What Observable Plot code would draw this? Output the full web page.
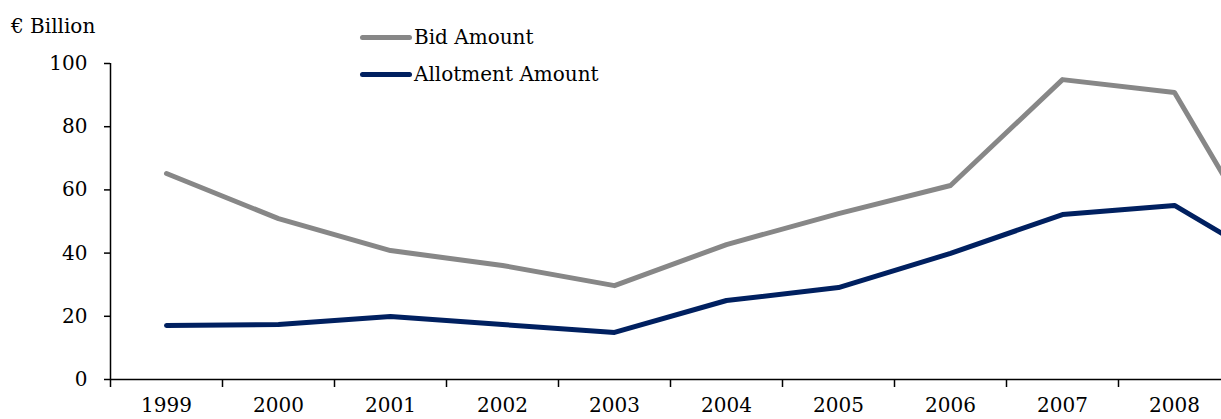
<!DOCTYPE html>
<html><head><meta charset="utf-8">
<script src="https://cdn.jsdelivr.net/npm/d3@7"></script>
<script src="https://cdn.jsdelivr.net/npm/@observablehq/plot@0.6"></script>
<style>
html,body{margin:0;padding:0;background:#fff;overflow:hidden;width:1221px;height:419px}
#wrap{position:relative;width:1400px;height:419px;font-family:"DejaVu Serif",serif;color:#000}
.unit{position:absolute;left:11px;top:16px;font-size:20px;line-height:20px}
.leg{position:absolute;font-size:20px;line-height:20px;display:flex;align-items:center;white-space:nowrap}
.leg .sw{width:52px;height:5px;border-radius:3px;margin-right:2px}
svg{position:absolute;left:0;top:0}
</style></head>
<body><div id="wrap"></div>
<script>
const years = [1999, 2000, 2001, 2002, 2003, 2004, 2005, 2006, 2007, 2008, 2009];
const bidAmount = [65.2, 50.9, 40.8, 36.1, 29.7, 42.7, 52.5, 61.4, 94.9, 90.8, 30.7];
const allotmentAmount = [17.1, 17.4, 19.9, 17.4, 14.9, 25.0, 29.1, 39.9, 52.2, 55.1, 34.2];
const yTicks = [0, 20, 40, 60, 80, 100];
const xTickLabels = [1999, 2000, 2001, 2002, 2003, 2004, 2005, 2006, 2007, 2008];
const seriesNames = ["Bid Amount", "Allotment Amount"];
const seriesColors = ["#878787", "#002060"];
const unitLabel = "€ Billion";

const bidData = years.map((y, i) => ({year: y, value: bidAmount[i]}));
const allotData = years.map((y, i) => ({year: y, value: allotmentAmount[i]}));
const boundaries = years.map(y => y - 0.5).concat([years[years.length - 1] + 0.5]);

const chart = Plot.plot({
  width: 1400,
  height: 419,
  marginLeft: 110,
  marginRight: 58,
  marginTop: 63,
  marginBottom: 40,
  x: {type: "linear", domain: [boundaries[0], boundaries[boundaries.length - 1]]},
  y: {domain: [0, 100]},
  style: {fontFamily: "'DejaVu Serif', serif", fontSize: "20px", color: "#000", background: "transparent"},
  marks: [
    Plot.axisY(yTicks, {tickSize: 6, tickPadding: 17, fontSize: 20, label: null, strokeWidth: 1.5}),
    Plot.axisX(boundaries, {tickSize: 8, tickFormat: () => "", label: null, strokeWidth: 1.5}),
    Plot.axisX(xTickLabels, {tickSize: 0, tickPadding: 18, tickFormat: d => String(d), fontSize: 20, label: null}),
    Plot.ruleX([boundaries[0]], {y1: 0, y2: 100, stroke: "#000", strokeWidth: 1.5}),
    Plot.ruleY([0], {stroke: "#000", strokeWidth: 1.5}),
    Plot.lineY(bidData, {x: "year", y: "value", stroke: seriesColors[0], strokeWidth: 5}),
    Plot.lineY(allotData, {x: "year", y: "value", stroke: seriesColors[1], strokeWidth: 5})
  ]
});
const wrap = document.getElementById("wrap");
wrap.appendChild(chart);

const unit = document.createElement("div");
unit.className = "unit";
unit.textContent = unitLabel;
wrap.appendChild(unit);

const legTops = [27, 64];
seriesNames.forEach((name, i) => {
  const d = document.createElement("div");
  d.className = "leg";
  d.style.left = "360px";
  d.style.top = legTops[i] + "px";
  const sw = document.createElement("span");
  sw.className = "sw";
  sw.style.background = seriesColors[i];
  const t = document.createElement("span");
  t.textContent = name;
  d.appendChild(sw); d.appendChild(t);
  wrap.appendChild(d);
});
</script>
</body></html>
